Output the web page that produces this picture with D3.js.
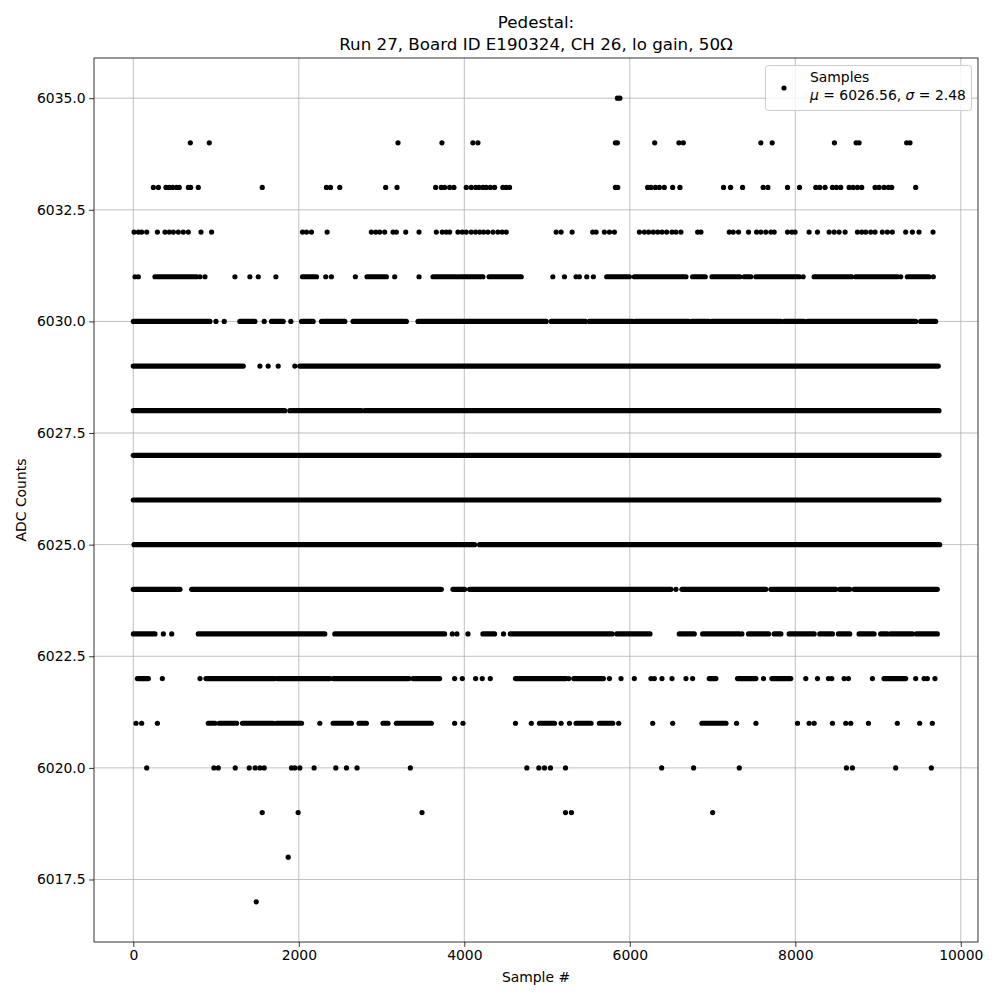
<!DOCTYPE html>
<html><head><meta charset="utf-8">
<script src="https://cdn.jsdelivr.net/npm/d3@7"></script>
<style>body{margin:0;background:#fff}svg{display:block;font-family:"DejaVu Sans",sans-serif}</style>
</head><body><svg id="c" width="1000" height="1000"></svg>
<script>
// Sample indices for each ADC level.
// A number is a single sample; a pair [a,b] is a run of consecutive samples at that level.
const s6035 = [5850, 5880];
const s6034 = [689, 918, 3199, 3730, 4104, 4165, 5826, 5850, 6301, 6594, 6647, 7584, 7721, 8473, 8735, 8771, 9346, 9386];
const s6033 = [242, 303, 395, 435, 476, 524, 556, 665, 693, 785, 1558, 2334, 2383, 2495, 3050, 3187, 3654, 3722, 3762, 3823, 3875, 4024, 4084, 4137, 4177, 4225, 4265, 4314, 4366, 4466, 4507, 4547, 5826, 5854, 6216, 6256, 6309, 6357, 6417, 6518, 6606, 7133, 7218, 7363, 7612, 7669, 7906, 8051, 8248, 8296, 8360, 8449, 8497, 8549, 8650, 8698, 8751, 8803, 8964, 9012, 9072, 9125, 9165, 9455];
const s6032 = [9, 61, 101, 162, 291, 383, 435, 484, 544, 604, 665, 818, 946, 2045, 2093, 2153, 2342, 2877, 2930, 2978, 3038, 3139, 3179, 3292, 3453, 3662, 3734, 3782, 3823, 3923, 3976, 4024, 4084, 4137, 4185, 4233, 4285, 4346, 4406, 4458, 4507, 5110, 5170, 5303, 5552, 5593, 5693, 5754, 5814, 6116, 6176, 6228, 6284, 6337, 6389, 6445, 6510, 6558, 6618, 6820, 6860, 7202, 7250, 7314, 7435, 7532, 7584, 7644, 7705, 7745, 7906, 7958, 7998, 8167, 8268, 8409, 8469, 8529, 8602, 8751, 8803, 8851, 8912, 8964, 9052, 9113, 9173, 9334, 9415, 9495, 9664];
const s6031 = [21, 61, [262, 765], 805, 866, 1228, 1409, 1510, 1723, [2045, 2214], 2326, 2394, 2684, [2825, 3058], 3159, 3453, [3622, 3900], [3930, 4225], [4300, 4688], 5070, 5210, 5351, 5391, 5480, 5560, [5721, 5995], [6055, 6679], [6759, 6912], [6993, 7331], [7383, 7463], [7524, 8047], 8095, [8228, 8682], [8730, 9233], 9274, [9354, 9616], 9668];
const s6030 = [[1, 926], 999, 1099, [1288, 1469], 1582, [1670, 1811], 1904, [2033, 2173], [2274, 2556], [2656, 3300], [3441, 4989], [5050, 5464], [5512, 6035], [6067, 6719], [6751, 6960], [6993, 7826], [7866, 8107], [8147, 9455], [9515, 9696]];
const s6029 = [[0, 1329], 1530, 1630, 1751, 1952, [2012, 9728]];
const s6028 = [[0, 1831], [1892, 2757], [2797, 9736]];
const s6027 = [[0, 9736]];
const s6026 = [[0, 9736]];
const s6025 = [[9, 4125], [4185, 9744]];
const s6024 = [[0, 564], [705, 3722], [3863, 4004], [4064, 6498], 6558, [6630, 7644], [7705, 8489], [8537, 8658], [8710, 9716]];
const s6023 = [[1, 262], 363, 464, [785, 2314], [2435, 3762], 3855, 3911, 4044, [4225, 4366], 4474, [4555, 5786], [5842, 6244], [6598, 6779], [6880, 7322], 7355, [7435, 7677], [7745, 7826], [7926, 8228], [8296, 8449], [8521, 8658], [8771, 8952], [9032, 9113], [9153, 9415], [9463, 9716]];
const s6022 = [[49, 182], 351, 806, [878, 1711], [1739, 2374], [2415, 3332], [3380, 3702], 3883, 3976, 4137, 4217, 4314, [4619, 5230], 5263, [5323, 5681], 5754, 5894, 6055, 6256, 6297, 6389, 6510, 6679, 6759, [6960, 7041], [7302, 7524], 7616, [7717, 7946], 8127, 8268, 8401, 8441, 8590, 8642, 8932, [9072, 9334], 9455, 9556, 9596, 9688];
const s6021 = [33, 101, 291, [906, 987], [1039, 1248], [1320, 1691], [1731, 2033], 2254, [2415, 2636], [2728, 2817], [3018, 3078], [3179, 3602], 3883, 3984, 4619, 4810, [4909, 5090], 5170, 5271, [5351, 5532], [5633, 5794], 5866, 6277, 6518, [6872, 7162], 7290, 7524, 8027, 8167, 8228, 8449, 8610, 8670, 8884, 9233, 9503, 9656];
const s6020 = [162, 974, 1027, 1232, 1401, 1473, 1530, 1582, 1912, 1952, 2012, 2185, 2447, 2576, 2704, 3348, 4756, 4901, 4969, 5041, 5223, 6385, 6771, 7323, 8618, 8690, 9213, 9644];
const s6019 = [1558, 1992, 3489, 5223, 5295, 7001];
const s6018 = [1872];
const s6017 = [1485];

const levelData = [
  [6035, s6035], [6034, s6034], [6033, s6033], [6032, s6032], [6031, s6031], [6030, s6030],
  [6029, s6029], [6028, s6028], [6027, s6027], [6026, s6026], [6025, s6025], [6024, s6024],
  [6023, s6023], [6022, s6022], [6021, s6021], [6020, s6020], [6019, s6019], [6018, s6018], [6017, s6017]
];

const xTicks = [0, 2000, 4000, 6000, 8000, 10000];
const yTicks = [6017.5, 6020.0, 6022.5, 6025.0, 6027.5, 6030.0, 6032.5, 6035.0];
const titleLines = ["Pedestal:", "Run 27, Board ID E190324, CH 26, lo gain, 50Ω"];
const legendLabel = "Samples";
const legendMu = "6026.56";
const legendSigma = "2.48";

const svg = d3.select("#c");
const L = 94, R = 978, T = 58, B = 942;
const x = d3.scaleLinear().domain([-475, 10208]).range([L, R]);
const y = d3.scaleLinear().domain([6016.1, 6035.9]).range([B, T]);

// grid
const g = svg.append("g");
g.selectAll("line.vx").data(xTicks).join("line")
  .attr("x1", d => x(d)).attr("x2", d => x(d)).attr("y1", T).attr("y2", B)
  .attr("stroke", "#b0b0b0").attr("stroke-width", 0.8);
g.selectAll("line.hy").data(yTicks).join("line")
  .attr("y1", d => y(d)).attr("y2", d => y(d)).attr("x1", L).attr("x2", R)
  .attr("stroke", "#b0b0b0").attr("stroke-width", 0.8);

// data
const clip = svg.append("clipPath").attr("id", "pc").append("rect")
  .attr("x", L).attr("y", T).attr("width", R - L).attr("height", B - T);
const dg = svg.append("g").attr("clip-path", "url(#pc)");
const R0 = 2.6;
levelData.forEach(([lv, items]) => {
  const runs = items.filter(d => Array.isArray(d));
  const singles = items.filter(d => !Array.isArray(d));
  dg.selectAll(null).data(runs).join("line")
    .attr("x1", d => x(d[0])).attr("x2", d => x(d[1]))
    .attr("y1", y(lv)).attr("y2", y(lv))
    .attr("stroke", "#000").attr("stroke-width", 2 * R0).attr("stroke-linecap", "round");
  dg.selectAll(null).data(singles).join("circle")
    .attr("cx", d => x(d)).attr("cy", y(lv)).attr("r", R0).attr("fill", "#000");
});

// axes
const xa = svg.append("g").attr("transform", `translate(0,${B})`)
  .call(d3.axisBottom(x).tickValues(xTicks).tickFormat(d3.format("d")).tickSizeOuter(0).tickSize(4.9).tickPadding(3.5));
const ya = svg.append("g").attr("transform", `translate(${L},0)`)
  .call(d3.axisLeft(y).tickValues(yTicks).tickFormat(d3.format(".1f")).tickSizeOuter(0).tickSize(4.9).tickPadding(3.5));
[xa, ya].forEach(a => {
  a.select(".domain").remove();
  a.selectAll("text").attr("font-size", "13.9px").attr("font-family", "DejaVu Sans").attr("fill", "#000");
  a.selectAll("line").attr("stroke", "#000").attr("stroke-width", 0.8);
});
svg.append("rect").attr("x", L).attr("y", T).attr("width", R - L).attr("height", B - T)
  .attr("fill", "none").attr("stroke", "#000").attr("stroke-width", 0.8);

// labels
svg.append("text").attr("x", (L + R) / 2).attr("y", 982).attr("text-anchor", "middle")
  .attr("font-size", "13.9px").text("Sample #");
svg.append("text").attr("transform", `translate(26,${(T + B) / 2}) rotate(-90)`).attr("text-anchor", "middle")
  .attr("font-size", "13.9px").text("ADC Counts");
svg.selectAll("text.title").data(titleLines).join("text").attr("class", "title")
  .attr("x", (L + R) / 2).attr("y", (d, i) => 28 + i * 22).attr("text-anchor", "middle")
  .attr("font-size", "16.7px").text(d => d);

// legend
const lg = svg.append("g");
lg.append("rect").attr("x", 765.5).attr("y", 65.5).attr("width", 206).attr("height", 45).attr("rx", 3)
  .attr("fill", "#fff").attr("fill-opacity", 0.8).attr("stroke", "#cccccc").attr("stroke-width", 1);
lg.append("circle").attr("cx", 784).attr("cy", 88).attr("r", R0).attr("fill", "#000");
lg.append("text").attr("x", 810).attr("y", 82).attr("font-size", "13.9px").text(legendLabel);
const t2 = lg.append("text").attr("x", 810).attr("y", 100).attr("font-size", "13.9px");
t2.append("tspan").attr("font-style", "italic").text("μ");
t2.append("tspan").text(` = ${legendMu}, `);
t2.append("tspan").attr("font-style", "italic").text("σ");
t2.append("tspan").text(` = ${legendSigma}`);
</script></body></html>
